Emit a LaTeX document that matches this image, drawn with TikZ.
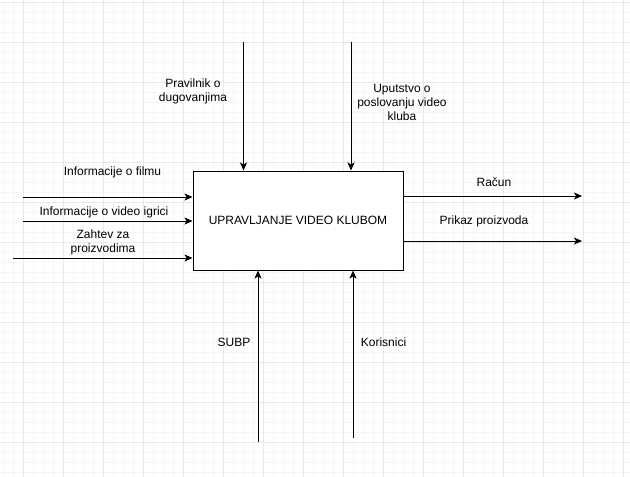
\documentclass[tikz,border=0pt]{standalone}
\usepackage{fontspec}
\setmainfont{Liberation Sans}
\usetikzlibrary{positioning,arrows.meta}
\definecolor{gridminor}{HTML}{F6F6F6}
\definecolor{gridmajor}{HTML}{E8E8E8}

\begin{document}
\begin{tikzpicture}[x=1pt, y=-1pt, every node/.style={font=\fontsize{12}{14}\selectfont},
    lbl/.style={align=center, inner sep=0pt},
    flow/.style={-{Stealth[length=8pt, width=7pt, inset=2pt]}, line width=1pt}]
    \useasboundingbox (0,0) rectangle (630,477);
    \fill[white] (0,0) rectangle (630,477);
    % background grid
    \foreach \x in {3,13,...,623} \draw[gridminor, line width=0.8pt] (\x,0) -- (\x,477);
    \foreach \y in {2,12,...,472} \draw[gridminor, line width=0.8pt] (0,\y) -- (630,\y);
    \foreach \x in {23,63,...,623} \draw[gridmajor, line width=0.8pt] (\x,0) -- (\x,477);
    \foreach \y in {2,42,...,442} \draw[gridmajor, line width=0.8pt] (0,\y) -- (630,\y);

    \node[draw, fill=white, line width=1pt, minimum width=210pt, minimum height=99pt,
          inner sep=0pt] (box) at (298,220.5) {UPRAVLJANJE VIDEO KLUBOM};

    % controls
    \coordinate (pravilnikIn) at (243.5,42);
    \coordinate (uputstvoIn) at (351,42);
    \draw[flow] (pravilnikIn) -- (pravilnikIn |- box.north);
    \draw[flow] (uputstvoIn) -- (uputstvoIn |- box.north);
    \node[lbl] (pravilnik) at (193,91.5) {Pravilnik o\\dugovanjima};
    \node[lbl] (uputstvo) at (402,102) {Uputstvo o\\poslovanju video\\kluba};

    % inputs
    \coordinate (filmIn) at (23,197);
    \coordinate (igriceIn) at (23,221);
    \coordinate (zahtevIn) at (13,258);
    \draw[flow] (filmIn) -- (filmIn -| box.west);
    \draw[flow] (igriceIn) -- (igriceIn -| box.west);
    \draw[flow] (zahtevIn) -- (zahtevIn -| box.west);
    \node[lbl] (film) at (112.5,172) {Informacije o filmu};
    \node[lbl] (igrice) at (104,212) {Informacije o video igrici};
    \node[lbl] (zahtev) at (103,242) {Zahtev za\\proizvodima};

    % outputs
    \coordinate (racunOut) at (582,196);
    \coordinate (prikazOut) at (582,241);
    \draw[flow] (racunOut -| box.east) -- (racunOut);
    \draw[flow] (prikazOut -| box.east) -- (prikazOut);
    \node[lbl] (racun) at (494,182) {Račun};
    \node[lbl] (prikaz) at (484,221.5) {Prikaz proizvoda};

    % mechanisms
    \coordinate (subpIn) at (258,442);
    \coordinate (korisniciIn) at (353,438);
    \draw[flow] (subpIn) -- (subpIn |- box.south);
    \draw[flow] (korisniciIn) -- (korisniciIn |- box.south);
    \node[lbl] (subp) at (234,342) {SUBP};
    \node[lbl] (korisnici) at (383.5,342) {Korisnici};
\end{tikzpicture}
\end{document}
